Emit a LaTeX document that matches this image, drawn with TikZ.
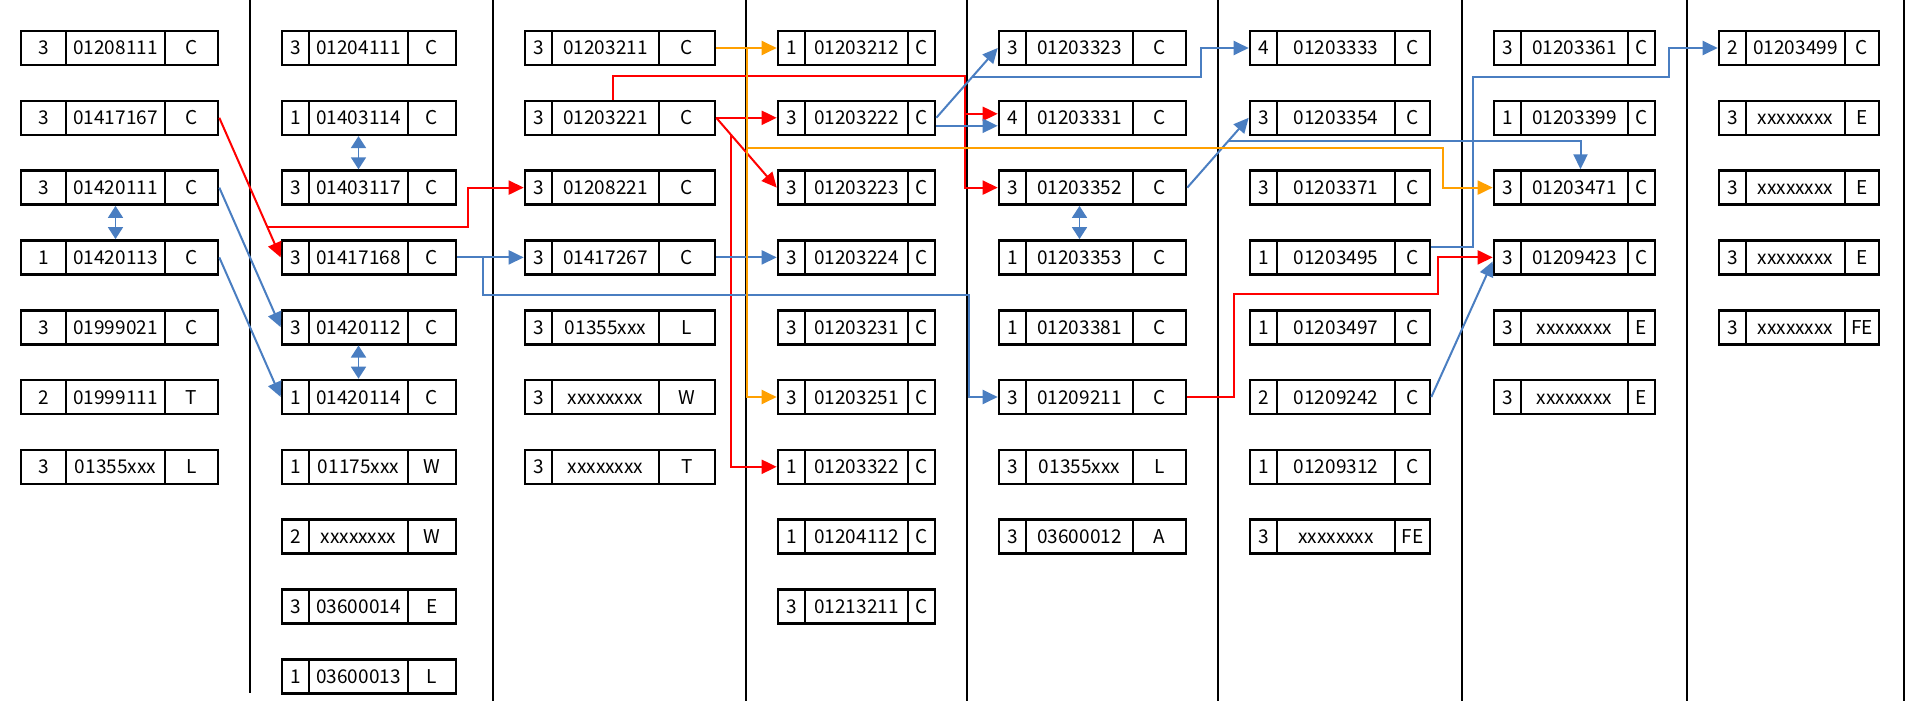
\documentclass[tikz,border=0pt]{standalone}
\usepackage{fontspec}
\setmainfont{Noto Sans CJK KR}
\usepackage{tikz}
\usetikzlibrary{arrows.meta}
\definecolor{linkblue}{RGB}{74,126,193}
\definecolor{linkorange}{RGB}{255,160,0}

\begin{document}
\begin{tikzpicture}[x=1pt, y=-1pt,
	cell/.style={draw=black, line width=2.6pt, minimum width=#1, minimum height=34pt, inner sep=0pt, text height=14pt, text depth=0pt, font=\fontsize{19}{19}\selectfont},
	divider/.style={black, line width=2.2pt},
	redlink/.style={red, line width=2pt, -{Triangle[length=15pt,width=14pt]}},
	bluelink/.style={linkblue, line width=2pt, -{Triangle[length=15pt,width=14pt]}},
	orangelink/.style={linkorange, line width=2pt, -{Triangle[length=15pt,width=14pt]}},
	pairlink/.style={linkblue, line width=1.8pt, {Triangle[length=12pt,width=15pt]}-{Triangle[length=12pt,width=15pt]}}]

	\useasboundingbox (0,0) rectangle (1909,701);

	% |
	\draw[divider] (250,0) -- (250,693);
	\draw[divider] (493,0) -- (493,701);
	\draw[divider] (746,0) -- (746,701);
	\draw[divider] (967,0) -- (967,701);
	\draw[divider] (1218,0) -- (1218,701);
	\draw[divider] (1462,0) -- (1462,701);
	\draw[divider] (1687,0) -- (1687,701);
	\draw[divider] (1904,0) -- (1904,701);

		%column 1
	\node[cell=45] (c1r1n) at (43.5,48) {3}; \node[cell=99] (c1r1) at (115.5,48) {01208111}; \node[cell=53] (c1r1l) at (191.5,48) {C};
	\node[cell=45] (c1r2n) at (43.5,117.8) {3}; \node[cell=99] (c1r2) at (115.5,117.8) {01417167}; \node[cell=53] (c1r2l) at (191.5,117.8) {C};
	\node[cell=45] (c1r3n) at (43.5,187.6) {3}; \node[cell=99] (c1r3) at (115.5,187.6) {01420111}; \node[cell=53] (c1r3l) at (191.5,187.6) {C};
	\node[cell=45] (c1r4n) at (43.5,257.4) {1}; \node[cell=99] (c1r4) at (115.5,257.4) {01420113}; \node[cell=53] (c1r4l) at (191.5,257.4) {C};
	\node[cell=45] (c1r5n) at (43.5,327.2) {3}; \node[cell=99] (c1r5) at (115.5,327.2) {01999021}; \node[cell=53] (c1r5l) at (191.5,327.2) {C};
	\node[cell=45] (c1r6n) at (43.5,397) {2}; \node[cell=99] (c1r6) at (115.5,397) {01999111}; \node[cell=53] (c1r6l) at (191.5,397) {T};
	\node[cell=45] (c1r7n) at (43.5,466.8) {3}; \node[cell=99] (c1r7) at (115.5,466.8) {01355xxx}; \node[cell=53] (c1r7l) at (191.5,466.8) {L};

		%column 2
	\node[cell=27] (c2r1n) at (295.5,48) {3}; \node[cell=99] (c2r1) at (358.5,48) {01204111}; \node[cell=48] (c2r1l) at (432,48) {C};
	\node[cell=27] (c2r2n) at (295.5,117.8) {1}; \node[cell=99] (c2r2) at (358.5,117.8) {01403114}; \node[cell=48] (c2r2l) at (432,117.8) {C};
	\node[cell=27] (c2r3n) at (295.5,187.6) {3}; \node[cell=99] (c2r3) at (358.5,187.6) {01403117}; \node[cell=48] (c2r3l) at (432,187.6) {C};
	\node[cell=27] (c2r4n) at (295.5,257.4) {3}; \node[cell=99] (c2r4) at (358.5,257.4) {01417168}; \node[cell=48] (c2r4l) at (432,257.4) {C};
	\node[cell=27] (c2r5n) at (295.5,327.2) {3}; \node[cell=99] (c2r5) at (358.5,327.2) {01420112}; \node[cell=48] (c2r5l) at (432,327.2) {C};
	\node[cell=27] (c2r6n) at (295.5,397) {1}; \node[cell=99] (c2r6) at (358.5,397) {01420114}; \node[cell=48] (c2r6l) at (432,397) {C};
	\node[cell=27] (c2r7n) at (295.5,466.8) {1}; \node[cell=99] (c2r7) at (358.5,466.8) {01175xxx}; \node[cell=48] (c2r7l) at (432,466.8) {W};
	\node[cell=27] (c2r8n) at (295.5,536.6) {2}; \node[cell=99] (c2r8) at (358.5,536.6) {xxxxxxxx}; \node[cell=48] (c2r8l) at (432,536.6) {W};
	\node[cell=27] (c2r9n) at (295.5,606.4) {3}; \node[cell=99] (c2r9) at (358.5,606.4) {03600014}; \node[cell=48] (c2r9l) at (432,606.4) {E};
	\node[cell=27] (c2r10n) at (295.5,676.2) {1}; \node[cell=99] (c2r10) at (358.5,676.2) {03600013}; \node[cell=48] (c2r10l) at (432,676.2) {L};

		%column 3
	\node[cell=27] (c3r1n) at (538.5,48) {3}; \node[cell=107] (c3r1) at (605.5,48) {01203211}; \node[cell=56] (c3r1l) at (687,48) {C};
	\node[cell=27] (c3r2n) at (538.5,117.8) {3}; \node[cell=107] (c3r2) at (605.5,117.8) {01203221}; \node[cell=56] (c3r2l) at (687,117.8) {C};
	\node[cell=27] (c3r3n) at (538.5,187.6) {3}; \node[cell=107] (c3r3) at (605.5,187.6) {01208221}; \node[cell=56] (c3r3l) at (687,187.6) {C};
	\node[cell=27] (c3r4n) at (538.5,257.4) {3}; \node[cell=107] (c3r4) at (605.5,257.4) {01417267}; \node[cell=56] (c3r4l) at (687,257.4) {C};
	\node[cell=27] (c3r5n) at (538.5,327.2) {3}; \node[cell=107] (c3r5) at (605.5,327.2) {01355xxx}; \node[cell=56] (c3r5l) at (687,327.2) {L};
	\node[cell=27] (c3r6n) at (538.5,397) {3}; \node[cell=107] (c3r6) at (605.5,397) {xxxxxxxx}; \node[cell=56] (c3r6l) at (687,397) {W};
	\node[cell=27] (c3r7n) at (538.5,466.8) {3}; \node[cell=107] (c3r7) at (605.5,466.8) {xxxxxxxx}; \node[cell=56] (c3r7l) at (687,466.8) {T};

		%column 4
	\node[cell=27] (c4r1n) at (791.5,48) {1}; \node[cell=103] (c4r1) at (856.5,48) {01203212}; \node[cell=27] (c4r1l) at (921.5,48) {C};
	\node[cell=27] (c4r2n) at (791.5,117.8) {3}; \node[cell=103] (c4r2) at (856.5,117.8) {01203222}; \node[cell=27] (c4r2l) at (921.5,117.8) {C};
	\node[cell=27] (c4r3n) at (791.5,187.6) {3}; \node[cell=103] (c4r3) at (856.5,187.6) {01203223}; \node[cell=27] (c4r3l) at (921.5,187.6) {C};
	\node[cell=27] (c4r4n) at (791.5,257.4) {3}; \node[cell=103] (c4r4) at (856.5,257.4) {01203224}; \node[cell=27] (c4r4l) at (921.5,257.4) {C};
	\node[cell=27] (c4r5n) at (791.5,327.2) {3}; \node[cell=103] (c4r5) at (856.5,327.2) {01203231}; \node[cell=27] (c4r5l) at (921.5,327.2) {C};
	\node[cell=27] (c4r6n) at (791.5,397) {3}; \node[cell=103] (c4r6) at (856.5,397) {01203251}; \node[cell=27] (c4r6l) at (921.5,397) {C};
	\node[cell=27] (c4r7n) at (791.5,466.8) {1}; \node[cell=103] (c4r7) at (856.5,466.8) {01203322}; \node[cell=27] (c4r7l) at (921.5,466.8) {C};
	\node[cell=27] (c4r8n) at (791.5,536.6) {1}; \node[cell=103] (c4r8) at (856.5,536.6) {01204112}; \node[cell=27] (c4r8l) at (921.5,536.6) {C};
	\node[cell=27] (c4r9n) at (791.5,606.4) {3}; \node[cell=103] (c4r9) at (856.5,606.4) {01213211}; \node[cell=27] (c4r9l) at (921.5,606.4) {C};

		%column 5
	\node[cell=27] (c5r1n) at (1012.5,48) {3}; \node[cell=107] (c5r1) at (1079.5,48) {01203323}; \node[cell=53] (c5r1l) at (1159.5,48) {C};
	\node[cell=27] (c5r2n) at (1012.5,117.8) {4}; \node[cell=107] (c5r2) at (1079.5,117.8) {01203331}; \node[cell=53] (c5r2l) at (1159.5,117.8) {C};
	\node[cell=27] (c5r3n) at (1012.5,187.6) {3}; \node[cell=107] (c5r3) at (1079.5,187.6) {01203352}; \node[cell=53] (c5r3l) at (1159.5,187.6) {C};
	\node[cell=27] (c5r4n) at (1012.5,257.4) {1}; \node[cell=107] (c5r4) at (1079.5,257.4) {01203353}; \node[cell=53] (c5r4l) at (1159.5,257.4) {C};
	\node[cell=27] (c5r5n) at (1012.5,327.2) {1}; \node[cell=107] (c5r5) at (1079.5,327.2) {01203381}; \node[cell=53] (c5r5l) at (1159.5,327.2) {C};
	\node[cell=27] (c5r6n) at (1012.5,397) {3}; \node[cell=107] (c5r6) at (1079.5,397) {01209211}; \node[cell=53] (c5r6l) at (1159.5,397) {C};
	\node[cell=27] (c5r7n) at (1012.5,466.8) {3}; \node[cell=107] (c5r7) at (1079.5,466.8) {01355xxx}; \node[cell=53] (c5r7l) at (1159.5,466.8) {L};
	\node[cell=27] (c5r8n) at (1012.5,536.6) {3}; \node[cell=107] (c5r8) at (1079.5,536.6) {03600012}; \node[cell=53] (c5r8l) at (1159.5,536.6) {A};

		%column 6
	\node[cell=27] (c6r1n) at (1263.5,48) {4}; \node[cell=118] (c6r1) at (1336,48) {01203333}; \node[cell=35] (c6r1l) at (1412.5,48) {C};
	\node[cell=27] (c6r2n) at (1263.5,117.8) {3}; \node[cell=118] (c6r2) at (1336,117.8) {01203354}; \node[cell=35] (c6r2l) at (1412.5,117.8) {C};
	\node[cell=27] (c6r3n) at (1263.5,187.6) {3}; \node[cell=118] (c6r3) at (1336,187.6) {01203371}; \node[cell=35] (c6r3l) at (1412.5,187.6) {C};
	\node[cell=27] (c6r4n) at (1263.5,257.4) {1}; \node[cell=118] (c6r4) at (1336,257.4) {01203495}; \node[cell=35] (c6r4l) at (1412.5,257.4) {C};
	\node[cell=27] (c6r5n) at (1263.5,327.2) {1}; \node[cell=118] (c6r5) at (1336,327.2) {01203497}; \node[cell=35] (c6r5l) at (1412.5,327.2) {C};
	\node[cell=27] (c6r6n) at (1263.5,397) {2}; \node[cell=118] (c6r6) at (1336,397) {01209242}; \node[cell=35] (c6r6l) at (1412.5,397) {C};
	\node[cell=27] (c6r7n) at (1263.5,466.8) {1}; \node[cell=118] (c6r7) at (1336,466.8) {01209312}; \node[cell=35] (c6r7l) at (1412.5,466.8) {C};
	\node[cell=27] (c6r8n) at (1263.5,536.6) {3}; \node[cell=118] (c6r8) at (1336,536.6) {xxxxxxxx}; \node[cell=35] (c6r8l) at (1412.5,536.6) {FE};

		%column 7
	\node[cell=27] (c7r1n) at (1507.5,48) {3}; \node[cell=107] (c7r1) at (1574.5,48) {01203361}; \node[cell=27] (c7r1l) at (1641.5,48) {C};
	\node[cell=27] (c7r2n) at (1507.5,117.8) {1}; \node[cell=107] (c7r2) at (1574.5,117.8) {01203399}; \node[cell=27] (c7r2l) at (1641.5,117.8) {C};
	\node[cell=27] (c7r3n) at (1507.5,187.6) {3}; \node[cell=107] (c7r3) at (1574.5,187.6) {01203471}; \node[cell=27] (c7r3l) at (1641.5,187.6) {C};
	\node[cell=27] (c7r4n) at (1507.5,257.4) {3}; \node[cell=107] (c7r4) at (1574.5,257.4) {01209423}; \node[cell=27] (c7r4l) at (1641.5,257.4) {C};
	\node[cell=27] (c7r5n) at (1507.5,327.2) {3}; \node[cell=107] (c7r5) at (1574.5,327.2) {xxxxxxxx}; \node[cell=27] (c7r5l) at (1641.5,327.2) {E};
	\node[cell=27] (c7r6n) at (1507.5,397) {3}; \node[cell=107] (c7r6) at (1574.5,397) {xxxxxxxx}; \node[cell=27] (c7r6l) at (1641.5,397) {E};

		%column 8
	\node[cell=27] (c8r1n) at (1732.5,48) {2}; \node[cell=99] (c8r1) at (1795.5,48) {01203499}; \node[cell=34] (c8r1l) at (1862,48) {C};
	\node[cell=27] (c8r2n) at (1732.5,117.8) {3}; \node[cell=99] (c8r2) at (1795.5,117.8) {xxxxxxxx}; \node[cell=34] (c8r2l) at (1862,117.8) {E};
	\node[cell=27] (c8r3n) at (1732.5,187.6) {3}; \node[cell=99] (c8r3) at (1795.5,187.6) {xxxxxxxx}; \node[cell=34] (c8r3l) at (1862,187.6) {E};
	\node[cell=27] (c8r4n) at (1732.5,257.4) {3}; \node[cell=99] (c8r4) at (1795.5,257.4) {xxxxxxxx}; \node[cell=34] (c8r4l) at (1862,257.4) {E};
	\node[cell=27] (c8r5n) at (1732.5,327.2) {3}; \node[cell=99] (c8r5) at (1795.5,327.2) {xxxxxxxx}; \node[cell=34] (c8r5l) at (1862,327.2) {FE};

	% <->
	\draw[pairlink] (c1r3.south) -- (c1r4.north);
	\draw[pairlink] (c2r2.south) -- (c2r3.north);
	\draw[pairlink] (c2r5.south) -- (c2r6.north);
	\draw[pairlink] (c5r3.south) -- (c5r4.north);

	% red
	\draw[redlink] (c1r2l.east) -- coordinate[pos=0.78] (rsplit1) (c2r4n.west);
	\draw[redlink] (rsplit1) -| ([xshift=-56pt]c3r3n.west) -- (c3r3n.west);
	\draw[redlink] ([xshift=7pt]c3r2.north) -- ++(0,-23) -| ([xshift=-33pt]c5r3n.west) -- (c5r3n.west);
	\draw[redlink] ([xshift=-33pt,yshift=4pt]c5r2n.west) -- ([yshift=4pt]c5r2n.west);
	\draw[redlink] (c3r2l.east) -- (c4r2n.west);
	\draw[redlink] (c3r2l.east) -- coordinate[pos=0.25] (rsplit2) (c4r3n.west);
	\draw[redlink] (rsplit2) |- (c4r7n.west);
	\draw[redlink] (c5r6l.east) -- ++(47,0) -- ++(0,-103) -| ([xshift=-55pt]c7r4n.west) -- (c7r4n.west);

	% blue
	\draw[bluelink] (c1r3l.east) -- (c2r5n.west);
	\draw[bluelink] (c1r4l.east) -- (c2r6n.west);
	\draw[bluelink] (c2r4l.east) -- (c3r4n.west);
	\draw[bluelink] ([xshift=26pt]c2r4l.east) -- ++(0,38) -| ([xshift=-29pt]c5r6n.west) -- (c5r6n.west);
	\draw[bluelink] (c3r4l.east) -- (c4r4n.west);
	\draw[bluelink] (c4r2l.east) -- coordinate[pos=0.585] (bsplit1) (c5r1n.west);
	\draw[bluelink] (bsplit1) -| ([xshift=-48pt]c6r1n.west) -- (c6r1n.west);
	\draw[bluelink] ([yshift=-8pt]c4r2l.east) -- ([yshift=-8pt]c5r2n.west);
	\draw[bluelink] (c5r3l.east) -- coordinate[pos=0.67] (bsplit2) (c6r2n.west);
	\draw[bluelink] (bsplit2) -| ([xshift=6pt]c7r3.north);
	\draw[bluelink] ([yshift=10pt]c6r4l.east) -- ++(42,0) |- ([xshift=-49pt,yshift=-29pt]c8r1n.west) |- (c8r1n.west);
	\draw[bluelink] (c6r6l.east) -- ([yshift=-4pt]c7r4n.west);

	% orange
	\draw[orangelink] (c3r1l.east) -- (c4r1n.west);
	\draw[orangelink] ([xshift=31pt]c3r1l.east) |- (c4r6n.west);
	\draw[orangelink] ([xshift=31pt]c3r1l.east) -- ++(0,100) -| ([xshift=-50pt]c7r3n.west) -- (c7r3n.west);
\end{tikzpicture}
\end{document}
